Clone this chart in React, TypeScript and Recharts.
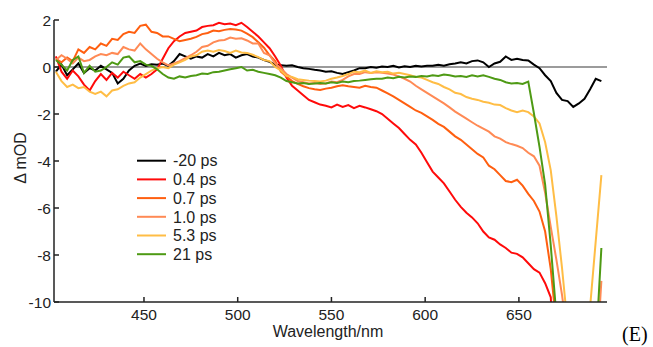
import React from 'react';
import { LineChart, Line, XAxis, YAxis, ReferenceLine } from 'recharts';

// wavelength grid (nm)
const wavelengths = [
  403, 406, 409, 412, 415, 418, 421, 424, 427, 430,
  433, 436, 439, 442, 445, 448, 451, 454, 457, 460,
  463, 466, 469, 472, 475, 478, 481, 484, 487, 490,
  493, 496, 499, 502, 505, 508, 511, 514, 517, 520,
  523, 526, 529, 532, 535, 538, 541, 544, 547, 550,
  553, 556, 559, 562, 565, 568, 571, 574, 577, 580,
  583, 586, 589, 592, 595, 598, 601, 604, 607, 610,
  613, 616, 619, 622, 625, 628, 631, 634, 637, 640,
  643, 646, 649, 652, 655, 658, 661, 664, 667, 670,
  673, 676, 679, 682, 685, 688, 691, 694, 697,
];

const seriesNames = ['-20 ps', '0.4 ps', '0.7 ps', '1.0 ps', '5.3 ps', '21 ps'];
const seriesColors = ['#000000', '#ff0a0a', '#ff5f10', '#ff8a55', '#ffbd45', '#4e9a14'];

const traceM20 = [
  -0.2, 0.1, -0.35, -0.1, 0.15, -0.25, -0.05, -0.15, 0.05, -0.1,
  -0.25, -0.7, -0.5, -0.15, 0.05, 0.15, 0.05, 0.12, 0.1, 0.15,
  0.05, 0.25, 0.55, 0.45, 0.35, 0.45, 0.4, 0.55, 0.45, 0.6,
  0.5, 0.55, 0.4, 0.5, 0.55, 0.45, 0.4, 0.3, 0.22, 0.1,
  0.08, 0.05, 0.07, 0.0, -0.05, -0.08, -0.12, -0.15, -0.2, -0.18,
  -0.25, -0.3, -0.22, -0.15, -0.05, -0.05, 0.0, -0.03, 0.02, 0.0,
  0.05, -0.02, 0.03, 0.0, 0.05, 0.02, 0.05, 0.05, 0.1, 0.05,
  0.12, 0.15, 0.2, 0.15, 0.25, 0.28, 0.2, 0.0, 0.15, 0.22,
  0.45, 0.3, 0.35, 0.3, 0.28, 0.1, -0.05, -0.35, -0.6, -1.1,
  -1.4, -1.45, -1.7, -1.55, -1.35, -0.95, -0.5, -0.6, null,
];

const trace04 = [
  0.45, -0.2, -0.5, -0.15, -0.4, -0.75, -1.0, -0.6, -0.3, -0.55,
  -0.25, -0.45, -0.2, -0.35, -0.5, -0.3, -0.45, -0.3, -0.1, 0.35,
  0.8, 1.1, 1.3, 1.45, 1.5, 1.55, 1.7, 1.75, 1.78, 1.88,
  1.82, 1.85, 1.78, 1.88, 1.7, 1.5, 1.3, 1.05, 0.8, 0.45,
  0.05, -0.45, -0.8, -1.0, -1.2, -1.4, -1.5, -1.6, -1.65, -1.72,
  -1.6, -1.7, -1.62, -1.75, -1.65, -1.72, -1.8, -1.88, -2.0, -2.2,
  -2.4, -2.6, -2.85, -3.1, -3.3, -3.65, -4.05, -4.45, -4.7, -4.95,
  -5.3, -5.65, -5.95, -6.2, -6.4, -6.65, -7.0, -7.25, -7.35, -7.55,
  -7.7, -7.9, -7.95, -8.1, -8.35, -8.6, -8.75, -9.2, -9.8, -14,
  null, null, null, null, null, null, null, null, null,
];

const trace07 = [
  0.35, 0.2, 0.4, 0.25, 0.75, 0.6, 0.85, 0.75, 1.0, 0.9,
  1.2, 1.15, 1.4, 1.5, 1.45, 1.75, 1.8, 1.5, 1.45, 1.3,
  1.3, 1.2, 1.1, 1.15, 1.2, 1.28, 1.4, 1.45, 1.55, 1.52,
  1.58, 1.62, 1.6, 1.55, 1.42, 1.27, 1.05, 0.82, 0.5, 0.25,
  -0.2, -0.4, -0.6, -0.72, -0.82, -0.9, -0.95, -0.98, -0.92, -0.88,
  -0.82, -0.78, -0.82, -0.85, -0.88, -0.8, -0.85, -0.88, -1.0, -1.12,
  -1.25, -1.4, -1.55, -1.7, -1.85, -1.95, -2.1, -2.25, -2.42, -2.55,
  -2.75, -2.95, -3.1, -3.3, -3.5, -3.7, -3.85, -4.2, -4.35, -4.6,
  -4.85, -4.9, -4.8, -5.05, -5.4, -5.7, -6.15, -7.0, -8.6, -11,
  -16, null, null, null, null, null, null, null, null,
];

const trace10 = [
  0.3, 0.5, 0.35, 0.15, 0.4, 0.25, 0.3, 0.45, 0.55, 0.5,
  0.6, 0.55, 0.85, 0.75, 0.7, 1.0, 0.75, 0.55, 0.35, 0.2,
  0.07, 0.15, 0.25, 0.38, 0.5, 0.65, 0.85, 0.9, 1.05, 1.13,
  1.15, 1.25, 1.2, 1.22, 1.13, 1.0, 1.0, 0.6, 0.5, 0.15,
  -0.05, -0.3, -0.45, -0.6, -0.65, -0.7, -0.68, -0.72, -0.7, -0.62,
  -0.65, -0.55, -0.4, -0.3, -0.3, -0.22, -0.25, -0.22, -0.25, -0.28,
  -0.32, -0.4, -0.5, -0.62, -0.8, -0.95, -1.1, -1.25, -1.4, -1.55,
  -1.72, -1.9, -2.05, -2.2, -2.35, -2.5, -2.62, -2.75, -2.95, -3.05,
  -3.2, -3.28, -3.35, -3.45, -3.65, -3.8, -4.2, -5.35, -6.8, -8.2,
  -9.7, -11.5, -16, -20, -20, -20, -13, -9.1, null,
];

const trace53 = [
  -0.2, -0.6, -0.85, -0.75, -0.9, -0.85, -1.05, -1.15, -1.05, -1.25,
  -1.0, -0.95, -0.8, -0.7, -0.65, -0.45, -0.3, -0.15, -0.05, 0.0,
  -0.05, 0.1, 0.2, 0.3, 0.45, 0.5, 0.65, 0.7, 0.65, 0.72,
  0.68, 0.6, 0.7, 0.62, 0.6, 0.52, 0.42, 0.3, 0.25, 0.0,
  -0.15, -0.38, -0.42, -0.52, -0.55, -0.58, -0.6, -0.62, -0.58, -0.5,
  -0.45, -0.38, -0.3, -0.2, -0.22, -0.15, -0.25, -0.18, -0.22, -0.2,
  -0.28, -0.25, -0.3, -0.35, -0.42, -0.45, -0.55, -0.65, -0.72, -0.85,
  -0.95, -1.1, -1.15, -1.28, -1.35, -1.4, -1.48, -1.52, -1.6, -1.62,
  -1.75, -1.85, -1.92, -1.85, -1.92, -2.1, -2.4, -3.2, -4.4, -6.35,
  -8.55, -11, -15, -20, -16, -10.2, -7.4, -4.6, null,
];

const trace21 = [
  0.3, 0.1, -0.15, 0.3, 0.45, -0.25, 0.05, -0.2, -0.15, 0.0,
  0.2, 0.1, 0.4, 0.45, 0.2, 0.25, 0.1, 0.05, -0.1, -0.3,
  -0.45, -0.5, -0.4, -0.45, -0.38, -0.35, -0.28, -0.3, -0.22, -0.2,
  -0.15, -0.1, -0.05, 0.0, -0.15, -0.12, -0.2, -0.25, -0.3, -0.35,
  -0.45, -0.6, -0.65, -0.7, -0.68, -0.72, -0.7, -0.68, -0.7, -0.65,
  -0.68, -0.62, -0.65, -0.6, -0.58, -0.55, -0.52, -0.5, -0.5, -0.45,
  -0.48, -0.42, -0.45, -0.4, -0.42, -0.38, -0.4, -0.35, -0.38, -0.32,
  -0.35, -0.4, -0.38, -0.42, -0.35, -0.4, -0.35, -0.42, -0.5, -0.55,
  -0.65, -0.7, -0.68, -0.72, -0.62, -1.97, -3.4, -5.0, -7.6, -10.6,
  -15, -20, -20, -20, -20, -20, -12, -7.7, null,
];

const xTicks = [450, 500, 550, 600, 650];
const yTicks = [-10, -8, -6, -4, -2, 0, 2];

const seriesValues = [traceM20, trace04, trace07, trace10, trace53, trace21];

const data = wavelengths.map((wl, i) => {
  const row: Record<string, number | null> = { wl };
  seriesValues.forEach((s, j) => {
    row['s' + j] = s[i];
  });
  return row;
});

const FONT = '"Liberation Sans", Arial, Helvetica, sans-serif';

export default function App() {
  return (
    <div style={{ position: 'absolute', left: 0, top: 0, width: 653, height: 347, background: '#fff' }}>
      <LineChart
        width={653}
        height={347}
        data={data}
        margin={{ top: 20, right: 46, bottom: 0, left: 0 }}
      >
        <XAxis
          dataKey="wl"
          type="number"
          domain={[402, 697]}
          ticks={xTicks}
          allowDataOverflow
          height={45}
          tickSize={-5}
          tickMargin={12}
          stroke="#222"
          strokeWidth={1.5}
          tick={{ fill: '#222', fontSize: 15.5, fontFamily: FONT }}
          tickLine={{ stroke: '#222', strokeWidth: 1.5 }}
        />
        <YAxis
          type="number"
          domain={[-10, 2]}
          ticks={yTicks}
          allowDataOverflow
          width={54}
          tickSize={-5}
          tickMargin={8}
          stroke="#222"
          strokeWidth={1.5}
          tick={{ fill: '#222', fontSize: 15.5, fontFamily: FONT }}
          tickLine={{ stroke: '#222', strokeWidth: 1.5 }}
        />
        <ReferenceLine y={0} stroke="#7a7a7a" strokeWidth={1.5} />
        {seriesNames.map((name, j) => (
          <Line
            key={name}
            name={name}
            dataKey={'s' + j}
            type="linear"
            stroke={seriesColors[j]}
            strokeWidth={2}
            dot={false}
            activeDot={false}
            isAnimationActive={false}
          />
        ))}
      </LineChart>
      <svg
        width={653}
        height={347}
        style={{ position: 'absolute', left: 0, top: 0, pointerEvents: 'none' }}
      >
        {seriesNames.map((name, j) => {
          const cy = 160.7 + j * 18.7;
          return (
            <g key={name}>
              <line x1={137} x2={166} y1={cy} y2={cy} stroke={seriesColors[j]} strokeWidth={2} />
              <text x={173} y={cy + 5.7} fontSize={16} fontFamily={FONT} fill="#222">
                {name}
              </text>
            </g>
          );
        })}
        <text x={328} y={337} textAnchor="middle" fontSize={16} fontFamily={FONT} fill="#222">
          Wavelength/nm
        </text>
        <text
          x={25.5}
          y={158}
          textAnchor="middle"
          fontSize={16}
          fontFamily={FONT}
          fill="#222"
          transform="rotate(-90 25.5 158)"
        >
          Δ mOD
        </text>
        <text x={622} y={341} fontSize={20} fontFamily='"Liberation Serif", "Times New Roman", serif' fill="#000">
          (E)
        </text>
      </svg>
    </div>
  );
}
